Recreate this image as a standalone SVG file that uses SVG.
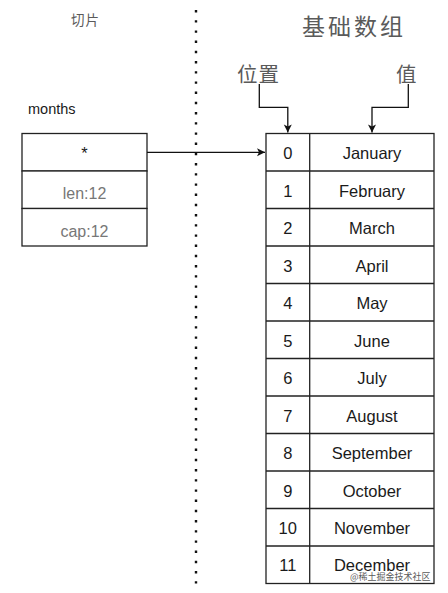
<svg xmlns="http://www.w3.org/2000/svg" width="448" height="593" viewBox="0 0 448 593">
<style>
.cell{fill:#fff;stroke:#222;stroke-width:1.3}
.t{font-family:"Liberation Sans",Arial,sans-serif;font-size:16.5px;fill:#1a1a1a;text-anchor:middle}
.g{font-family:"Liberation Sans",Arial,sans-serif;font-size:16px;fill:#777;text-anchor:middle}
.cjk{font-family:"Noto Sans CJK SC","Liberation Sans",sans-serif;fill:#5a5a5a}
.line{fill:none;stroke:#111;stroke-width:1.3}
</style>
<defs>
<marker id="ah" markerWidth="10" markerHeight="10" refX="9" refY="5" orient="auto" markerUnits="userSpaceOnUse">
<path d="M1,1 L9,5 L1,9 L3,5 Z" fill="#111"/>
</marker>
</defs>
<rect width="448" height="593" fill="#fff"/>
<line x1="196" y1="10" x2="196" y2="584" stroke="#111" stroke-width="2.4" stroke-dasharray="2.4 7.8"/>
<g id="title-slice"><text x="71" y="25" class="cjk" font-size="13.5" fill="#444" letter-spacing="1">切片</text></g>
<g id="title-array"><text x="302" y="35" class="cjk" font-size="23" letter-spacing="3">基础数组</text></g>
<g id="label-pos"><text x="237" y="82" class="cjk" font-size="20.5" letter-spacing="1">位置</text></g>
<g id="label-val"><text x="396" y="82" class="cjk" font-size="20.5">值</text></g>
<g id="months-label"><text x="28" y="114" font-family="'Liberation Sans',Arial,sans-serif" font-size="14.5" fill="#1a1a1a">months</text></g>
<g id="slice">
<rect class="cell" x="22" y="133.5" width="125" height="37.5"/>
<rect class="cell" x="22" y="171" width="125" height="37.5"/>
<rect class="cell" x="22" y="208.5" width="125" height="37.5"/>
<text class="t" x="84.5" y="159">*</text>
<text class="g" x="84.5" y="198.5">len:12</text>
<text class="g" x="84.5" y="236.5">cap:12</text>
</g>
<g id="array">
<rect class="cell" x="266" y="133.5" width="168" height="450"/>
<line class="cell" x1="309.7" y1="133.5" x2="309.7" y2="583.5"/>
<g class="cell">
<line x1="266" y1="171" x2="434" y2="171"/>
<line x1="266" y1="208.5" x2="434" y2="208.5"/>
<line x1="266" y1="246" x2="434" y2="246"/>
<line x1="266" y1="283.5" x2="434" y2="283.5"/>
<line x1="266" y1="321" x2="434" y2="321"/>
<line x1="266" y1="358.5" x2="434" y2="358.5"/>
<line x1="266" y1="396" x2="434" y2="396"/>
<line x1="266" y1="433.5" x2="434" y2="433.5"/>
<line x1="266" y1="471" x2="434" y2="471"/>
<line x1="266" y1="508.5" x2="434" y2="508.5"/>
<line x1="266" y1="546" x2="434" y2="546"/>
</g>
<g class="t">
<text x="287.8" y="159">0</text><text x="372" y="159">January</text>
<text x="287.8" y="196.5">1</text><text x="372" y="196.5">February</text>
<text x="287.8" y="234">2</text><text x="372" y="234">March</text>
<text x="287.8" y="271.5">3</text><text x="372" y="271.5">April</text>
<text x="287.8" y="309">4</text><text x="372" y="309">May</text>
<text x="287.8" y="346.5">5</text><text x="372" y="346.5">June</text>
<text x="287.8" y="384">6</text><text x="372" y="384">July</text>
<text x="287.8" y="421.5">7</text><text x="372" y="421.5">August</text>
<text x="287.8" y="459">8</text><text x="372" y="459">September</text>
<text x="287.8" y="496.5">9</text><text x="372" y="496.5">October</text>
<text x="287.8" y="534">10</text><text x="372" y="534">November</text>
<text x="287.8" y="571">11</text><text x="372" y="571">December</text>
</g>
</g>
<g id="connectors">
<path class="line" d="M147,152.3 H265" marker-end="url(#ah)"/>
<path class="line" d="M259.3,84 V107.3 H287.8 V132.5" marker-end="url(#ah)"/>
<path class="line" d="M408.3,84 V107.3 H372 V132.5" marker-end="url(#ah)"/>
</g>
<g id="watermark"><text x="350" y="580" class="cjk" font-size="9" fill="#c4c4c4">@稀土掘金技术社区</text></g>
</svg>
